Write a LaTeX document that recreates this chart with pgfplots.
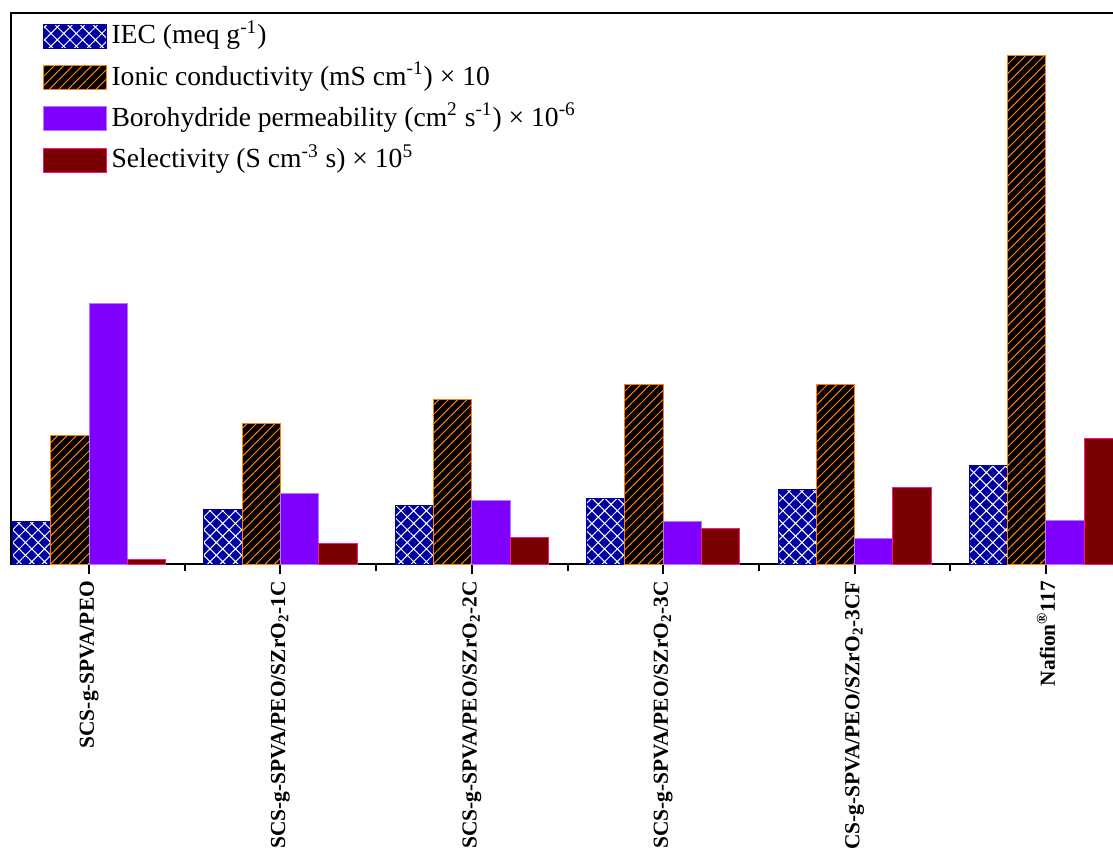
\documentclass[border=0pt]{standalone}
\usepackage{fontspec}
\setmainfont{Liberation Serif}
\usepackage{pgfplots}
\pgfplotsset{compat=1.18}
\usetikzlibrary{patterns.meta}
\definecolor{iec}{RGB}{0,0,160}
\definecolor{ionorange}{RGB}{255,128,0}
\definecolor{boro}{RGB}{128,0,255}
\definecolor{boroedge}{RGB}{175,120,255}
\definecolor{selred}{RGB}{120,0,0}
\definecolor{seledge}{RGB}{255,20,140}
\begin{document}
\begin{tikzpicture}
\path[use as bounding box, clip] (-5.5pt,-142pt) rectangle (551pt,282pt);
\begin{axis}[
  at={(0pt,0pt)}, anchor=south west,
  scale only axis, width=556.5pt, height=275.5pt,
  xmin=-0.408, xmax=5.408, ymin=0, ymax=5.1,
  ytick=\empty,
  xtick={0,1,2,3,4,5},
  xticklabels={SCS-g-SPVA/PEO,
    SCS-g-SPVA/PEO/SZrO\textsubscript{2}-1C,
    SCS-g-SPVA/PEO/SZrO\textsubscript{2}-2C,
    SCS-g-SPVA/PEO/SZrO\textsubscript{2}-3C,
    SCS-g-SPVA/PEO/SZrO\textsubscript{2}-3CF,
    Nafion\textsuperscript{\textregistered}117},
  minor xtick={0.5,1.5,2.5,3.5,4.5},
  xtick pos=bottom, tick align=outside,
  major tick length=5pt, minor tick length=3.5pt,
  xtick style={black, line width=1pt},
  minor x tick style={black, line width=1pt},
  axis line style={line width=1.2pt},
  xticklabel style={font=\bfseries\fontsize{10.7}{12}\selectfont, rotate=90, anchor=east},
  ybar=0pt, bar width=19.14pt,
  legend image code/.code={\draw[#1, line width=0.5pt] (0pt,-6pt) rectangle (31.3pt,6pt);},
  legend style={at={(0.0285,0.992)}, anchor=north west, draw=none, fill=none,
    inner sep=0pt, row sep=2.15pt, font=\fontsize{13.8}{16}\selectfont,
    nodes={text height=11pt, text depth=3.5pt},
    /tikz/every odd column/.append style={column sep=0.4pt}},
  legend cell align=left,
]
\addplot[draw=iec, fill=iec, line width=0.5pt,
  postaction={pattern={Hatch[angle=45,distance=4.5pt,line width=0.5pt]}, pattern color=white}]
  coordinates {(0,0.395) (1,0.509) (2,0.537) (3,0.611) (4,0.694) (5,0.910)};
\addplot[draw=ionorange, fill=black, line width=0.5pt,
  postaction={pattern={Lines[angle=45,distance=3.3pt,line width=0.5pt]}, pattern color=ionorange}]
  coordinates {(0,1.194) (1,1.296) (2,1.524) (3,1.666) (4,1.666) (5,4.707)};
\addplot[draw=boroedge, fill=boro, line width=0.5pt]
  coordinates {(0,2.407) (1,0.654) (2,0.592) (3,0.392) (4,0.234) (5,0.407)};
\addplot[draw=seledge, fill=selred, line width=0.5pt]
  coordinates {(0,0.046) (1,0.188) (2,0.243) (3,0.330) (4,0.706) (5,1.163)};
\legend{IEC (meq g\textsuperscript{-1}),
  Ionic conductivity (mS cm\textsuperscript{-1}) × 10,
  Borohydride permeability (cm\textsuperscript{2} s\textsuperscript{-1}) × 10\textsuperscript{-6},
  Selectivity (S cm\textsuperscript{-3} s) × 10\textsuperscript{5}}
\end{axis}
\end{tikzpicture}
\end{document}
